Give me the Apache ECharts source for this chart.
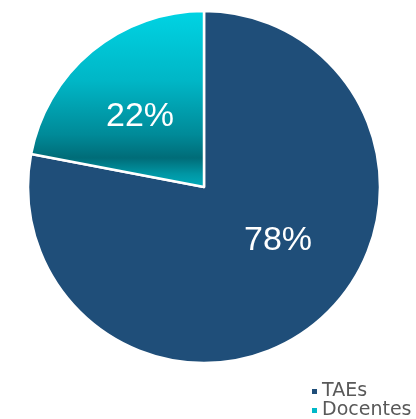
<!DOCTYPE html>
<html>
<head>
<meta charset="utf-8">
<script src="https://cdn.jsdelivr.net/npm/echarts@6/dist/echarts.min.js"></script>
<style>
  html, body { margin: 0; padding: 0; background: #ffffff; }
  #chart { width: 416px; height: 419px; }
</style>
</head>
<body>
<div id="chart"></div>
<script>
// Staff composition: administrative staff vs. teaching staff
const categories = ['TAEs', 'Docentes'];
const shares = [78, 22];

const chart = echarts.init(document.getElementById('chart'), null, { renderer: 'canvas' });

const docentesFill = new echarts.graphic.LinearGradient(0, 0, 0, 1, [
  { offset: 0.00, color: '#00d4e4' },
  { offset: 0.40, color: '#00b6c6' },
  { offset: 0.70, color: '#008a98' },
  { offset: 0.83, color: '#006c78' },
  { offset: 0.92, color: '#0096a4' },
  { offset: 1.00, color: '#00aebe' }
]);

const fills = ['#1f4e79', docentesFill];
const legendIcons = ['#1f4e79', '#00b8c8'];
const labelOffsets = [[16, -16], [-6, 0]];

chart.setOption({
  animation: false,
  legend: {
    orient: 'vertical',
    left: 310,
    top: 382,
    width: 106,
    height: 60,
    padding: 0,
    itemWidth: 7,
    itemHeight: 7,
    itemGap: 0,
    icon: 'rect',
    textStyle: {
      fontFamily: 'DejaVu Sans, sans-serif',
      fontSize: 19,
      lineHeight: 16,
      color: '#595959',
      padding: [0, 0, 0, -1]
    },
    data: categories.map((name, i) => ({ name, itemStyle: { color: legendIcons[i] } }))
  },
  series: [{
    type: 'pie',
    center: [204, 187],
    radius: [0, 176],
    startAngle: 90,
    clockwise: true,
    avoidLabelOverlap: false,
    itemStyle: { borderColor: '#ffffff', borderWidth: 2.5 },
    label: {
      show: true,
      position: 'inside',
      formatter: '{c}%',
      color: '#ffffff',
      fontFamily: 'Liberation Sans, Arial, sans-serif',
      fontSize: 34
    },
    labelLine: { show: false },
    emphasis: { disabled: true },
    data: categories.map((name, i) => ({
      name,
      value: shares[i],
      itemStyle: { color: fills[i] },
      label: { offset: labelOffsets[i] }
    }))
  }]
});
</script>
</body>
</html>
